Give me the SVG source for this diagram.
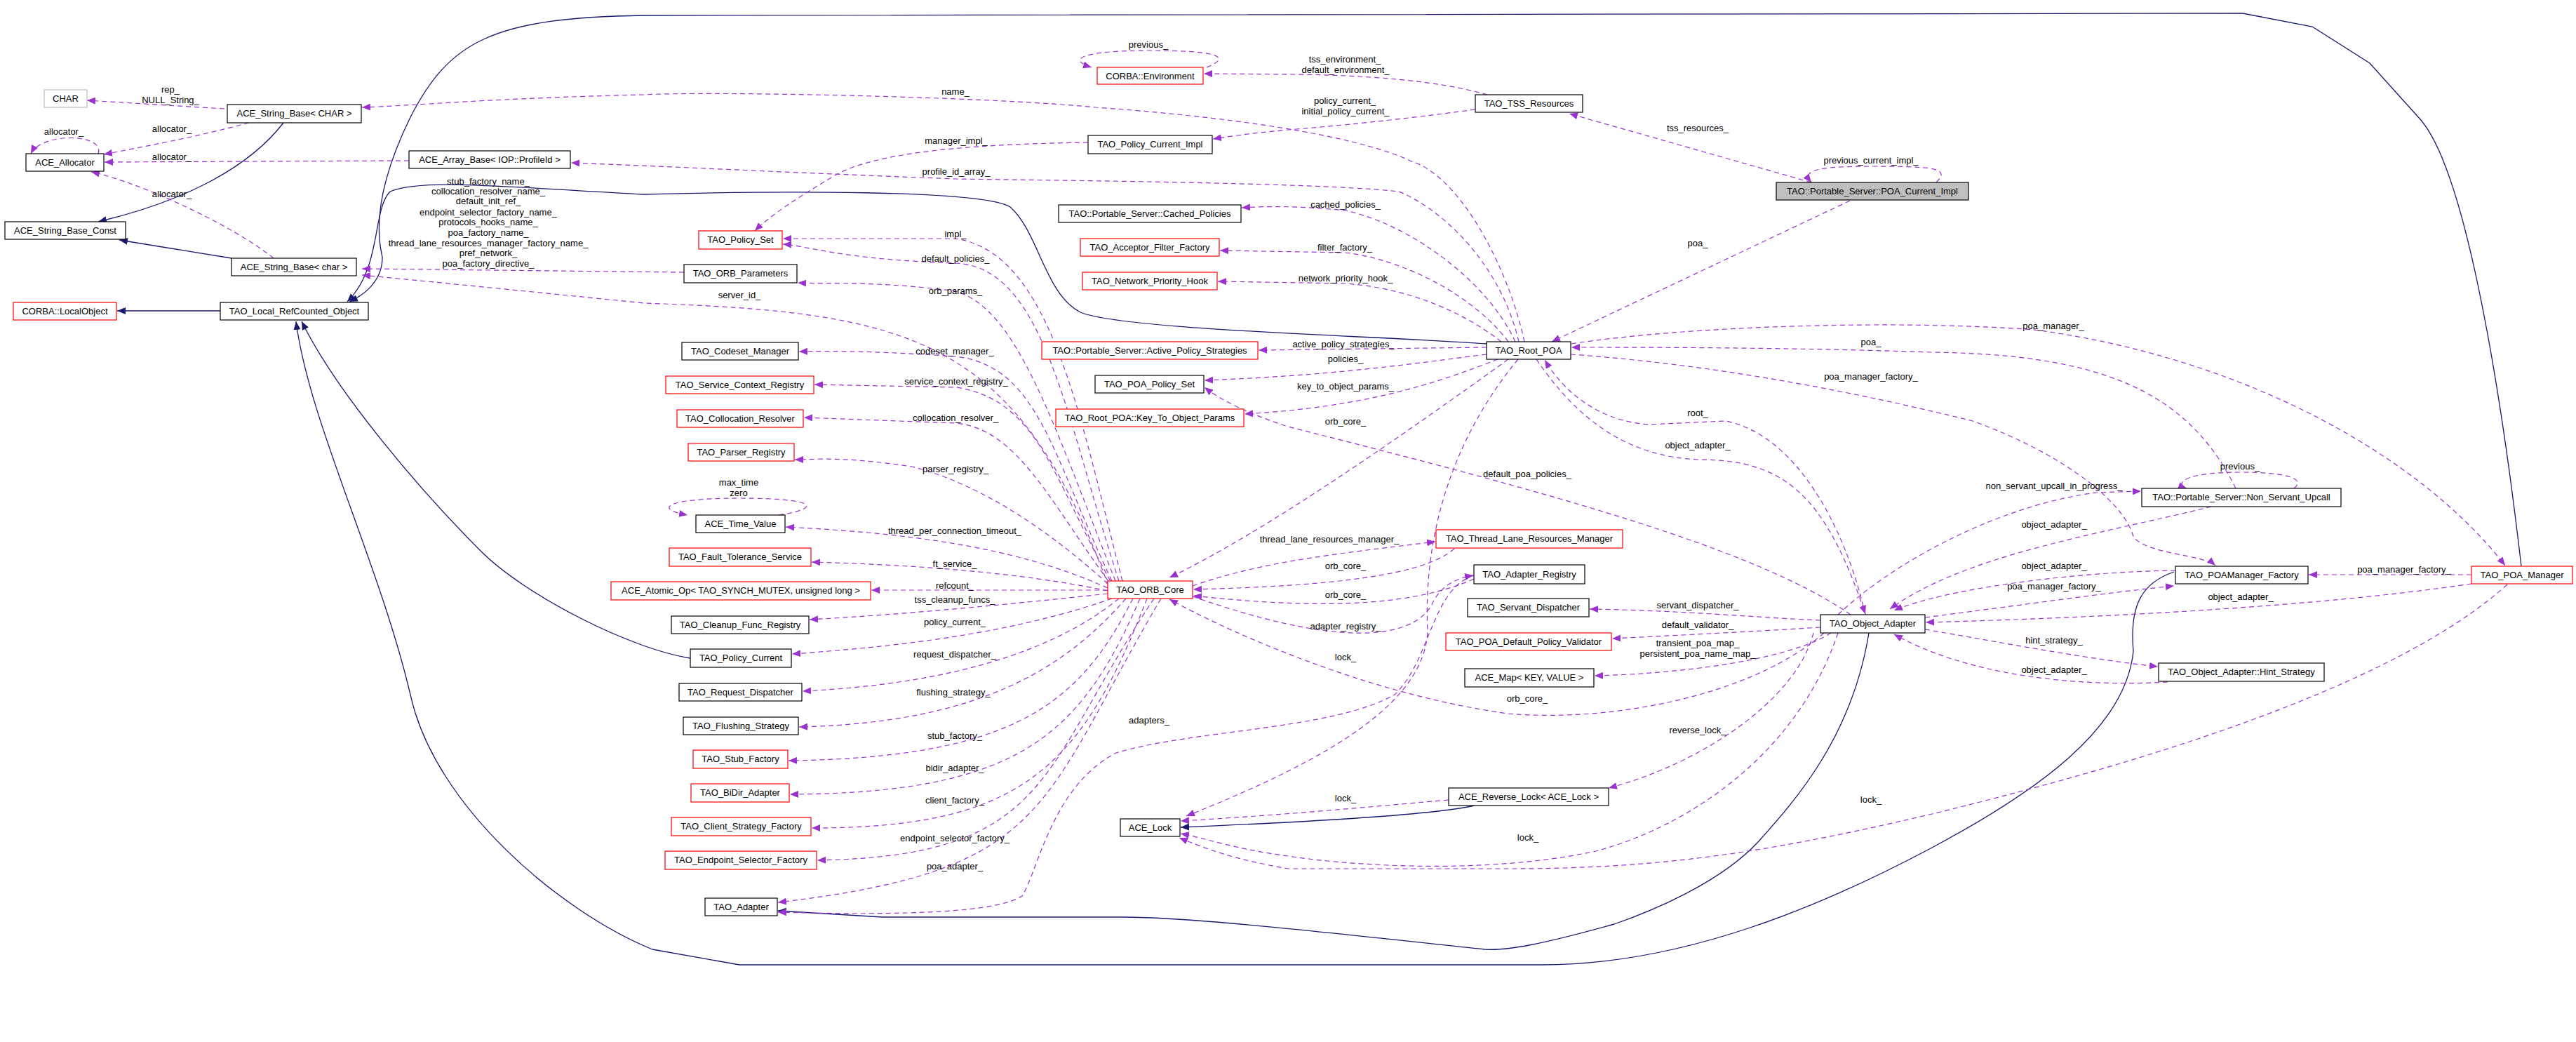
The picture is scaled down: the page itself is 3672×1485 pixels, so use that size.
<svg xmlns="http://www.w3.org/2000/svg" width="3672" height="1485" viewBox="0 0 3672 1485">
<style>
text{font-family:"Liberation Sans",Arial,sans-serif;font-size:13px;fill:#000;text-anchor:middle}
.node rect{fill:#fff;stroke:#000;stroke-width:1.2}
.node.red rect{stroke:#ff0000}
.node.gray rect{stroke:#bfbfbf}
.node.cur rect{fill:#bfbfbf}
.e{fill:none;stroke:#9a32cd;stroke-width:1.2;stroke-dasharray:7,5;marker-end:url(#ap)}
.i{fill:none;stroke:#191970;stroke-width:1.3;marker-end:url(#an)}
</style>
<defs>
<marker id="ap" viewBox="0 0 12 10" refX="12" refY="5" markerUnits="userSpaceOnUse" markerWidth="12" markerHeight="10" orient="auto"><path d="M0,0 L12,5 L0,10 z" fill="#9a32cd"/></marker>
<marker id="an" viewBox="0 0 12 10" refX="12" refY="5" markerUnits="userSpaceOnUse" markerWidth="12" markerHeight="10" orient="auto"><path d="M0,0 L12,5 L0,10 z" fill="#191970"/></marker>
</defs>
<rect width="3672" height="1485" fill="#fff"/>
<g id="edges">
<path class="i" d="M404,175 C350,245 250,290 140,316"/>
<path class="i" d="M330,368 L170,342"/>
<path class="i" d="M314,443 L167,443"/>
<path class="i" d="M2119,490 C1950,478 1600,470 1540,445 C1490,420 1480,330 1440,295 C1400,270 1100,272 918,277 C700,265 600,255 556,273 C530,300 545,380 495,430"/>
<path class="i" d="M3594,807 C3570,600 3520,250 3450,170 L3378,90 L3296,38 L3197,19 L918,22 C700,25 640,60 585,167 C520,300 545,360 545,367 C545,400 520,420 498,430"/>
<path class="i" d="M984,938 C900,925 750,850 685,785 C600,700 480,560 430,458"/>
<path class="i" d="M3099,815 C3055,830 3035,860 3041,928 C3030,1040 2900,1130 2754,1208 C2600,1290 2400,1375 2199,1375 L1054,1375 L930,1353 C800,1300 620,1150 585,990 C540,800 440,600 422,458"/>
<path class="i" d="M2664,902 C2640,1050 2560,1140 2506,1200 C2450,1260 2350,1300 2301,1317 C2200,1345 2150,1355 2117,1353 C1900,1330 1700,1307 1600,1307 L1258,1307 L1109,1298"/>
<path class="i" d="M2102,1148 C2050,1160 1900,1170 1683,1179"/>
<path class="e" d="M320,155 L124,143"/>
<path class="e" d="M355,175 C280,195 200,210 148,220"/>
<path class="e" d="M140,219 C150,190 60,188 44,219"/>
<path class="e" d="M583,229 L149,231"/>
<path class="e" d="M390,368 C330,320 200,260 130,245"/>
<path class="e" d="M2173,487 C2150,380 2080,250 2012,230 C1950,200 1800,170 1562,153 C1400,137 1000,130 918,135 C700,140 600,150 516,153"/>
<path class="e" d="M2120,135 C2050,115 1950,107 1843,106 L1716,105"/>
<path class="e" d="M1720,96 C1760,80 1730,72 1640,72 C1540,72 1520,85 1556,96"/>
<path class="e" d="M2103,156 C2000,170 1900,180 1836,185 C1780,190 1750,195 1729,198"/>
<path class="e" d="M2582,260 L2237,162"/>
<path class="e" d="M2760,260 C2780,240 2760,237 2667,237 C2580,237 2570,245 2582,260"/>
<path class="e" d="M2637,286 L2212,487"/>
<path class="e" d="M1551,203 C1400,205 1250,215 1190,250 C1140,280 1100,305 1076,329"/>
<path class="e" d="M2165,487 C2140,380 2060,300 1994,273 C1900,262 1600,258 1363,255 C1100,245 950,237 814,232"/>
<path class="e" d="M2160,487 C2120,400 2010,320 1918,300 C1850,293 1800,294 1770,296"/>
<path class="e" d="M2150,487 C2100,420 2000,370 1918,360 L1739,357"/>
<path class="e" d="M2140,487 C2080,440 2000,410 1918,404 L1736,401"/>
<path class="e" d="M2119,495 L1794,499"/>
<path class="e" d="M2119,505 C2000,520 1900,535 1717,542"/>
<path class="e" d="M2135,512 C2050,545 1950,580 1774,590"/>
<path class="e" d="M2150,512 C2000,620 1800,760 1667,823"/>
<path class="e" d="M2164,512 C2050,650 2030,800 2035,900 C2030,1000 1900,1080 1691,1163"/>
<path class="e" d="M2659,876 C2630,750 2560,620 2460,600 L2350,605 C2280,600 2230,560 2202,513"/>
<path class="e" d="M2190,512 C2250,600 2320,650 2420,655 C2540,655 2600,700 2659,875"/>
<path class="e" d="M2240,490 C2400,465 2700,455 2900,470 C3200,510 3450,650 3571,806"/>
<path class="e" d="M3187,696 C3120,560 3000,505 2754,502 C2550,495 2350,495 2240,495"/>
<path class="e" d="M2239,505 C2450,520 2650,560 2812,600 C2950,650 3030,720 3041,765 C3060,790 3140,790 3158,806"/>
<path class="e" d="M3270,696 C3290,680 3250,673 3193,673 C3110,673 3100,690 3117,696"/>
<path class="e" d="M2620,876 C2700,800 2850,720 2988,702 L3052,700"/>
<path class="e" d="M3152,722 C3000,760 2800,790 2694,868"/>
<path class="e" d="M3101,813 C2950,815 2770,840 2700,870"/>
<path class="e" d="M2744,880 C2900,860 3000,845 3099,835"/>
<path class="e" d="M3523,832 C3300,865 3000,880 2745,887"/>
<path class="e" d="M3523,819 L3291,819"/>
<path class="e" d="M2744,897 C2850,915 2980,940 3076,950"/>
<path class="e" d="M3090,972 C2950,980 2800,960 2700,904"/>
<path class="e" d="M3574,833 C3400,990 3000,1100 2754,1160 C2500,1220 2350,1238 2150,1238 L1836,1238 C1760,1225 1720,1210 1681,1194"/>
<path class="e" d="M2620,902 C2560,1080 2400,1180 2275,1213 C2100,1250 1900,1230 1836,1220 C1760,1210 1720,1195 1683,1188"/>
<path class="e" d="M2065,1140 C1950,1150 1850,1160 1683,1170"/>
<path class="e" d="M2585,902 C2560,1000 2420,1090 2293,1123"/>
<path class="e" d="M2600,902 C2500,990 2300,1030 2150,1017 C1950,990 1750,900 1667,854"/>
<path class="e" d="M2595,884 C2500,880 2400,870 2266,868"/>
<path class="e" d="M2595,894 C2500,900 2400,905 2298,910"/>
<path class="e" d="M2610,902 C2550,940 2400,960 2273,963"/>
<path class="e" d="M2638,876 C2500,780 2200,700 1836,608 C1780,590 1740,570 1717,552"/>
<path class="e" d="M1700,835 C1800,800 1900,790 2046,772"/>
<path class="e" d="M2073,782 C2030,820 1900,835 1701,840"/>
<path class="e" d="M2101,825 C2000,870 1850,865 1701,849"/>
<path class="e" d="M1700,850 C1900,920 2010,915 2041,862 C2050,840 2070,825 2100,820"/>
<path class="e" d="M2101,820 C2040,840 2040,940 1988,990 C1900,1040 1700,1040 1591,1073 C1500,1120 1480,1240 1457,1277 C1420,1300 1300,1305 1109,1300"/>
<path class="e" d="M1580,835 C1450,480 1300,445 918,432 C750,415 600,400 516,392"/>
<path class="e" d="M975,388 L516,383"/>
<path class="e" d="M1600,828 C1540,600 1500,360 1362,340 L1116,340"/>
<path class="e" d="M1595,828 C1520,600 1490,380 1362,375 C1200,370 1150,350 1116,348"/>
<path class="e" d="M1590,828 C1500,600 1450,440 1362,415 C1250,400 1180,405 1137,403"/>
<path class="e" d="M1585,828 C1500,650 1480,520 1361,508 C1250,500 1180,500 1139,501"/>
<path class="e" d="M1583,828 C1500,680 1480,570 1363,552 L1161,548"/>
<path class="e" d="M1580,828 C1500,720 1450,610 1362,603 L1146,595"/>
<path class="e" d="M1579,832 C1500,760 1400,690 1300,665 C1200,650 1160,655 1133,655"/>
<path class="e" d="M1579,838 C1450,780 1300,760 1120,751"/>
<path class="e" d="M1579,842 C1450,815 1300,805 1157,801"/>
<path class="e" d="M1579,841 L1242,841"/>
<path class="e" d="M1579,846 C1450,860 1300,875 1154,883"/>
<path class="e" d="M1585,853 C1450,900 1300,920 1129,932"/>
<path class="e" d="M1595,853 C1500,930 1350,975 1144,985"/>
<path class="e" d="M1605,853 C1520,950 1400,1030 1139,1036"/>
<path class="e" d="M1615,853 C1540,1000 1450,1080 1124,1084"/>
<path class="e" d="M1625,853 C1540,1050 1450,1130 1126,1132"/>
<path class="e" d="M1635,853 C1540,1100 1450,1180 1157,1180"/>
<path class="e" d="M1645,853 C1480,1100 1500,1220 1165,1226"/>
<path class="e" d="M1655,853 C1480,1150 1500,1240 1109,1286"/>
<path class="e" d="M1110,734 C1170,725 1170,710 1053,710 C950,710 930,725 980,734"/>
</g>
<g id="edge-labels">
<text x="243" y="132">rep_</text><text x="243" y="147">NULL_String_</text>
<text x="245" y="188">allocator_</text>
<text x="91" y="192">allocator_</text>
<text x="245" y="228">allocator_</text>
<text x="245" y="281">allocator_</text>
<text x="696" y="263">stub_factory_name_</text>
<text x="696" y="277">collocation_resolver_name_</text>
<text x="696" y="291">default_init_ref_</text>
<text x="696" y="307">endpoint_selector_factory_name_</text>
<text x="696" y="321">protocols_hooks_name_</text>
<text x="696" y="336">poa_factory_name_</text>
<text x="696" y="351">thread_lane_resources_manager_factory_name_</text>
<text x="696" y="365">pref_network_</text>
<text x="696" y="380">poa_factory_directive_</text>
<text x="1054" y="425">server_id_</text>
<text x="1362" y="135">name_</text>
<text x="1637" y="68">previous_</text>
<text x="1917" y="89">tss_environment_</text><text x="1918" y="104">default_environment_</text>
<text x="1917" y="148">policy_current_</text><text x="1918" y="163">initial_policy_current_</text>
<text x="2420" y="187">tss_resources_</text>
<text x="2667" y="233">previous_current_impl_</text>
<text x="2420" y="351">poa_</text>
<text x="1363" y="205">manager_impl_</text>
<text x="1363" y="249">profile_id_array_</text>
<text x="1918" y="296">cached_policies_</text>
<text x="1917" y="357">filter_factory_</text>
<text x="1918" y="401">network_priority_hook_</text>
<text x="1362" y="338">impl_</text>
<text x="1362" y="373">default_policies_</text>
<text x="1362" y="419">orb_params_</text>
<text x="1915" y="495">active_policy_strategies_</text>
<text x="1918" y="516">policies_</text>
<text x="1918" y="555">key_to_object_params_</text>
<text x="1918" y="605">orb_core_</text>
<text x="2420" y="593">root_</text>
<text x="2420" y="639">object_adapter_</text>
<text x="2667" y="541">poa_manager_factory_</text>
<text x="2667" y="492">poa_</text>
<text x="2927" y="469">poa_manager_</text>
<text x="2177" y="680">default_poa_policies_</text>
<text x="3193" y="669">previous_</text>
<text x="2928" y="697">non_servant_upcall_in_progress_</text>
<text x="2928" y="752">object_adapter_</text>
<text x="2928" y="811">object_adapter_</text>
<text x="2928" y="840">poa_manager_factory_</text>
<text x="3427" y="816">poa_manager_factory_</text>
<text x="3194" y="855">object_adapter_</text>
<text x="2928" y="917">hint_strategy_</text>
<text x="2928" y="959">object_adapter_</text>
<text x="1895" y="773">thread_lane_resources_manager_</text>
<text x="1918" y="811">orb_core_</text>
<text x="1918" y="852">orb_core_</text>
<text x="1918" y="897">adapter_registry_</text>
<text x="1918" y="941">lock_</text>
<text x="2420" y="867">servant_dispatcher_</text>
<text x="2420" y="895">default_validator_</text>
<text x="2420" y="921">transient_poa_map_</text><text x="2420" y="936">persistent_poa_name_map_</text>
<text x="2177" y="1000">orb_core_</text>
<text x="2420" y="1045">reverse_lock_</text>
<text x="1918" y="1142">lock_</text>
<text x="2178" y="1198">lock_</text>
<text x="2667" y="1144">lock_</text>
<text x="1638" y="1031">adapters_</text>
<text x="1053" y="692">max_time</text><text x="1053" y="707">zero</text>
<text x="1361" y="505">codeset_manager_</text>
<text x="1363" y="548">service_context_registry_</text>
<text x="1362" y="600">collocation_resolver_</text>
<text x="1362" y="673">parser_registry_</text>
<text x="1361" y="761">thread_per_connection_timeout_</text>
<text x="1361" y="808">ft_service_</text>
<text x="1361" y="839">refcount_</text>
<text x="1361" y="859">tss_cleanup_funcs_</text>
<text x="1361" y="891">policy_current_</text>
<text x="1361" y="937">request_dispatcher_</text>
<text x="1359" y="991">flushing_strategy_</text>
<text x="1361" y="1053">stub_factory_</text>
<text x="1361" y="1099">bidir_adapter_</text>
<text x="1361" y="1145">client_factory_</text>
<text x="1361" y="1199">endpoint_selector_factory_</text>
<text x="1361" y="1239">poa_adapter_</text>
</g>
<g id="n1" class="node gray"><rect x="63" y="128" width="61" height="25"/><text x="93.5" y="145">CHAR</text></g>
<g id="n2" class="node"><rect x="324" y="149" width="191" height="26"/><text x="419.5" y="166">ACE_String_Base&lt; CHAR &gt;</text></g>
<g id="n3" class="node"><rect x="37" y="219" width="111" height="25"/><text x="92.5" y="236">ACE_Allocator</text></g>
<g id="n4" class="node"><rect x="583" y="215" width="230" height="25"/><text x="698" y="232">ACE_Array_Base&lt; IOP::ProfileId &gt;</text></g>
<g id="n5" class="node"><rect x="7" y="316" width="172" height="25"/><text x="93" y="333">ACE_String_Base_Const</text></g>
<g id="n6" class="node"><rect x="330" y="368" width="178" height="25"/><text x="419" y="385">ACE_String_Base&lt; char &gt;</text></g>
<g id="n7" class="node red"><rect x="19" y="431" width="147" height="25"/><text x="92.5" y="448">CORBA::LocalObject</text></g>
<g id="n8" class="node"><rect x="314" y="431" width="211" height="25"/><text x="419.5" y="448">TAO_Local_RefCounted_Object</text></g>
<g id="n9" class="node red"><rect x="1564" y="96" width="151" height="24"/><text x="1639.5" y="113">CORBA::Environment</text></g>
<g id="n10" class="node"><rect x="1551" y="193" width="177" height="26"/><text x="1639.5" y="210">TAO_Policy_Current_Impl</text></g>
<g id="n11" class="node"><rect x="1509" y="292" width="260" height="25"/><text x="1639" y="309">TAO::Portable_Server::Cached_Policies</text></g>
<g id="n12" class="node red"><rect x="996" y="329" width="119" height="26"/><text x="1055.5" y="346">TAO_Policy_Set</text></g>
<g id="n13" class="node red"><rect x="1540" y="340" width="198" height="25"/><text x="1639" y="357">TAO_Acceptor_Filter_Factory</text></g>
<g id="n14" class="node"><rect x="975" y="377" width="161" height="26"/><text x="1055.5" y="394">TAO_ORB_Parameters</text></g>
<g id="n15" class="node red"><rect x="1543" y="388" width="192" height="25"/><text x="1639" y="405">TAO_Network_Priority_Hook</text></g>
<g id="n16" class="node"><rect x="2103" y="135" width="153" height="25"/><text x="2179.5" y="152">TAO_TSS_Resources</text></g>
<g id="n17" class="node cur"><rect x="2532" y="260" width="274" height="25"/><text x="2669" y="277">TAO::Portable_Server::POA_Current_Impl</text></g>
<g id="n18" class="node"><rect x="2119" y="487" width="120" height="25"/><text x="2179" y="504">TAO_Root_POA</text></g>
<g id="n19" class="node"><rect x="972" y="488" width="166" height="25"/><text x="1055" y="505">TAO_Codeset_Manager</text></g>
<g id="n20" class="node red"><rect x="1485" y="487" width="308" height="25"/><text x="1639" y="504">TAO::Portable_Server::Active_Policy_Strategies</text></g>
<g id="n21" class="node"><rect x="1561" y="535" width="155" height="25"/><text x="1638.5" y="552">TAO_POA_Policy_Set</text></g>
<g id="n22" class="node red"><rect x="949" y="536" width="211" height="25"/><text x="1054.5" y="553">TAO_Service_Context_Registry</text></g>
<g id="n23" class="node red"><rect x="1505" y="583" width="268" height="25"/><text x="1639" y="600">TAO_Root_POA::Key_To_Object_Params</text></g>
<g id="n24" class="node red"><rect x="965" y="584" width="180" height="25"/><text x="1055" y="601">TAO_Collocation_Resolver</text></g>
<g id="n25" class="node red"><rect x="981" y="632" width="151" height="25"/><text x="1056.5" y="649">TAO_Parser_Registry</text></g>
<g id="n26" class="node"><rect x="992" y="734" width="127" height="25"/><text x="1055.5" y="751">ACE_Time_Value</text></g>
<g id="n27" class="node red"><rect x="954" y="781" width="202" height="26"/><text x="1055" y="798">TAO_Fault_Tolerance_Service</text></g>
<g id="n28" class="node red"><rect x="871" y="829" width="370" height="26"/><text x="1056" y="846">ACE_Atomic_Op&lt; TAO_SYNCH_MUTEX, unsigned long &gt;</text></g>
<g id="n29" class="node red"><rect x="1579" y="828" width="121" height="25"/><text x="1639.5" y="845">TAO_ORB_Core</text></g>
<g id="n30" class="node"><rect x="957" y="878" width="196" height="25"/><text x="1055" y="895">TAO_Cleanup_Func_Registry</text></g>
<g id="n31" class="node"><rect x="984" y="925" width="144" height="26"/><text x="1056" y="942">TAO_Policy_Current</text></g>
<g id="n32" class="node"><rect x="968" y="974" width="175" height="25"/><text x="1055.5" y="991">TAO_Request_Dispatcher</text></g>
<g id="n33" class="node"><rect x="974" y="1022" width="164" height="25"/><text x="1056" y="1039">TAO_Flushing_Strategy</text></g>
<g id="n34" class="node red"><rect x="988" y="1069" width="135" height="26"/><text x="1055.5" y="1086">TAO_Stub_Factory</text></g>
<g id="n35" class="node red"><rect x="985" y="1117" width="140" height="26"/><text x="1055" y="1134">TAO_BiDir_Adapter</text></g>
<g id="n36" class="node red"><rect x="957" y="1165" width="199" height="26"/><text x="1056.5" y="1182">TAO_Client_Strategy_Factory</text></g>
<g id="n37" class="node red"><rect x="948" y="1213" width="216" height="26"/><text x="1056" y="1230">TAO_Endpoint_Selector_Factory</text></g>
<g id="n38" class="node"><rect x="1005" y="1280" width="103" height="25"/><text x="1056.5" y="1297">TAO_Adapter</text></g>
<g id="n39" class="node"><rect x="1597" y="1167" width="85" height="25"/><text x="1639.5" y="1184">ACE_Lock</text></g>
<g id="n40" class="node red"><rect x="2047" y="755" width="266" height="26"/><text x="2180" y="772">TAO_Thread_Lane_Resources_Manager</text></g>
<g id="n41" class="node"><rect x="2101" y="805" width="158" height="27"/><text x="2180" y="823">TAO_Adapter_Registry</text></g>
<g id="n42" class="node"><rect x="2092" y="853" width="173" height="26"/><text x="2178.5" y="870">TAO_Servant_Dispatcher</text></g>
<g id="n43" class="node"><rect x="2595" y="876" width="149" height="26"/><text x="2669.5" y="893">TAO_Object_Adapter</text></g>
<g id="n44" class="node red"><rect x="2061" y="902" width="236" height="25"/><text x="2179" y="919">TAO_POA_Default_Policy_Validator</text></g>
<g id="n45" class="node"><rect x="2088" y="953" width="184" height="26"/><text x="2180" y="970">ACE_Map&lt; KEY, VALUE &gt;</text></g>
<g id="n46" class="node"><rect x="3053" y="696" width="284" height="26"/><text x="3195" y="713">TAO::Portable_Server::Non_Servant_Upcall</text></g>
<g id="n47" class="node"><rect x="3101" y="807" width="189" height="25"/><text x="3195.5" y="824">TAO_POAManager_Factory</text></g>
<g id="n48" class="node red"><rect x="3523" y="807" width="144" height="25"/><text x="3595" y="824">TAO_POA_Manager</text></g>
<g id="n49" class="node"><rect x="3077" y="945" width="236" height="26"/><text x="3195" y="962">TAO_Object_Adapter::Hint_Strategy</text></g>
<g id="n50" class="node"><rect x="2065" y="1123" width="228" height="25"/><text x="2179" y="1140">ACE_Reverse_Lock&lt; ACE_Lock &gt;</text></g>
</svg>
